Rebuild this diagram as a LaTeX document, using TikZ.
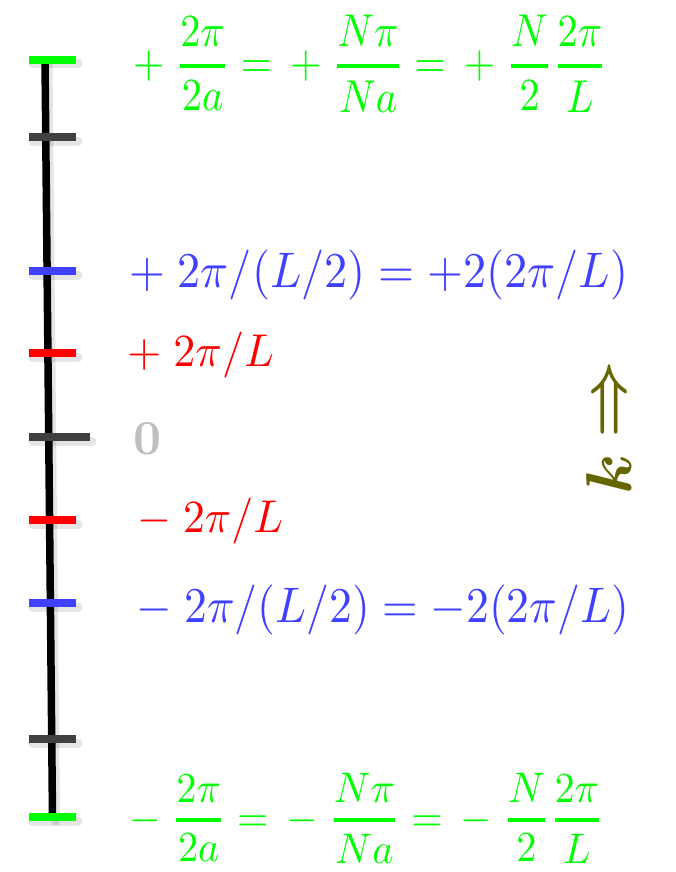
\documentclass[tikz,border=0pt]{standalone}
\usepackage{amsmath,amssymb,bm}
\usepackage{graphicx}
\definecolor{kgreen}{RGB}{0,255,0}
\definecolor{kblue}{RGB}{64,64,255}
\definecolor{kred}{RGB}{255,0,0}
\definecolor{tgray}{RGB}{64,64,64}
\definecolor{zgray}{RGB}{191,191,191}
\definecolor{olive}{RGB}{102,102,0}
\newcommand{\tfr}[2]{\genfrac{}{}{0.9pt}{0}{#1}{#2}}
\tikzset{
  axisline/.style={line width=7.5pt, black, line cap=butt},
  tickmark/.style={line width=8pt, line cap=butt},
  shade1/.style={line width=9pt, black, opacity=0.10, line cap=round},
  lbl/.style={inner sep=0pt, outer sep=0pt, anchor=west},
}
\begin{document}
\begin{tikzpicture}[x=1pt,y=-1pt]
\useasboundingbox (0,0) rectangle (675,872);
\fill[white] (0,0) rectangle (675,872);
% axis ends
\coordinate (atop) at (45,60);
\coordinate (abot) at (52.5,817);
% shadows
\draw[shade1] ([shift={(3,4)}]atop) -- ([shift={(3,4)}]abot);
\foreach \y in {60,137,271,353,520,603,739,817}
  \draw[shade1] (33,\y+4) -- (78,\y+4);
\draw[shade1] (33,441) -- (92,441);
% axis
\draw[axisline] (atop) -- (abot);
% ticks
\foreach \y/\c in {60/kgreen,137/tgray,271/kblue,353/kred,520/kred,603/kblue,739/tgray,817/kgreen}
  \draw[tickmark,\c] (29,\y) -- (76,\y);
\draw[tickmark,tgray] (29,437) -- (90,437);
% labels
\node[lbl,text=kgreen] (gtop) at (133,63.5)
  {\resizebox*{474pt}{97pt}{$\displaystyle +\;\tfr{2\pi}{2a} = \,+\;\tfr{N\pi}{Na} = \,+\;\tfr{N}{2}\tfr{2\pi}{L}$}};
\node[lbl,text=kblue] (btop) at (129,275)
  {\resizebox*{499pt}{50pt}{$+\;2\pi/(L/2) = +2(2\pi/L)$}};
\node[lbl,text=kred] (rtop) at (127,355)
  {\resizebox*{147pt}{46pt}{$+\;2\pi/L$}};
\node[lbl,text=zgray] (zero) at (133,439)
  {\resizebox{!}{32pt}{\textbf{0}}};
\node[lbl,text=kred] (rbot) at (137,521)
  {\resizebox*{146pt}{46pt}{$-\;2\pi/L$}};
\node[lbl,text=kblue] (bbot) at (136,610)
  {\resizebox*{493pt}{50pt}{$-\;2\pi/(L/2) = -2(2\pi/L)$}};
\node[lbl,text=kgreen] (gbot) at (129,818)
  {\resizebox*{475pt}{90pt}{$\displaystyle -\;\tfr{2\pi}{2a} = \,-\;\tfr{N\pi}{Na} = \,-\;\tfr{N}{2}\tfr{2\pi}{L}$}};
% k arrow
\node[inner sep=0pt, rotate=90, text=olive] (karrow) at (613,399)
  {\scalebox{6.8}[6.0]{$\boldsymbol{\Rightarrow}$}};
\node[inner sep=0pt, rotate=90, text=olive] (klab) at (609,474)
  {\resizebox{!}{45pt}{$\boldsymbol{k}$}};
\end{tikzpicture}
\end{document}
